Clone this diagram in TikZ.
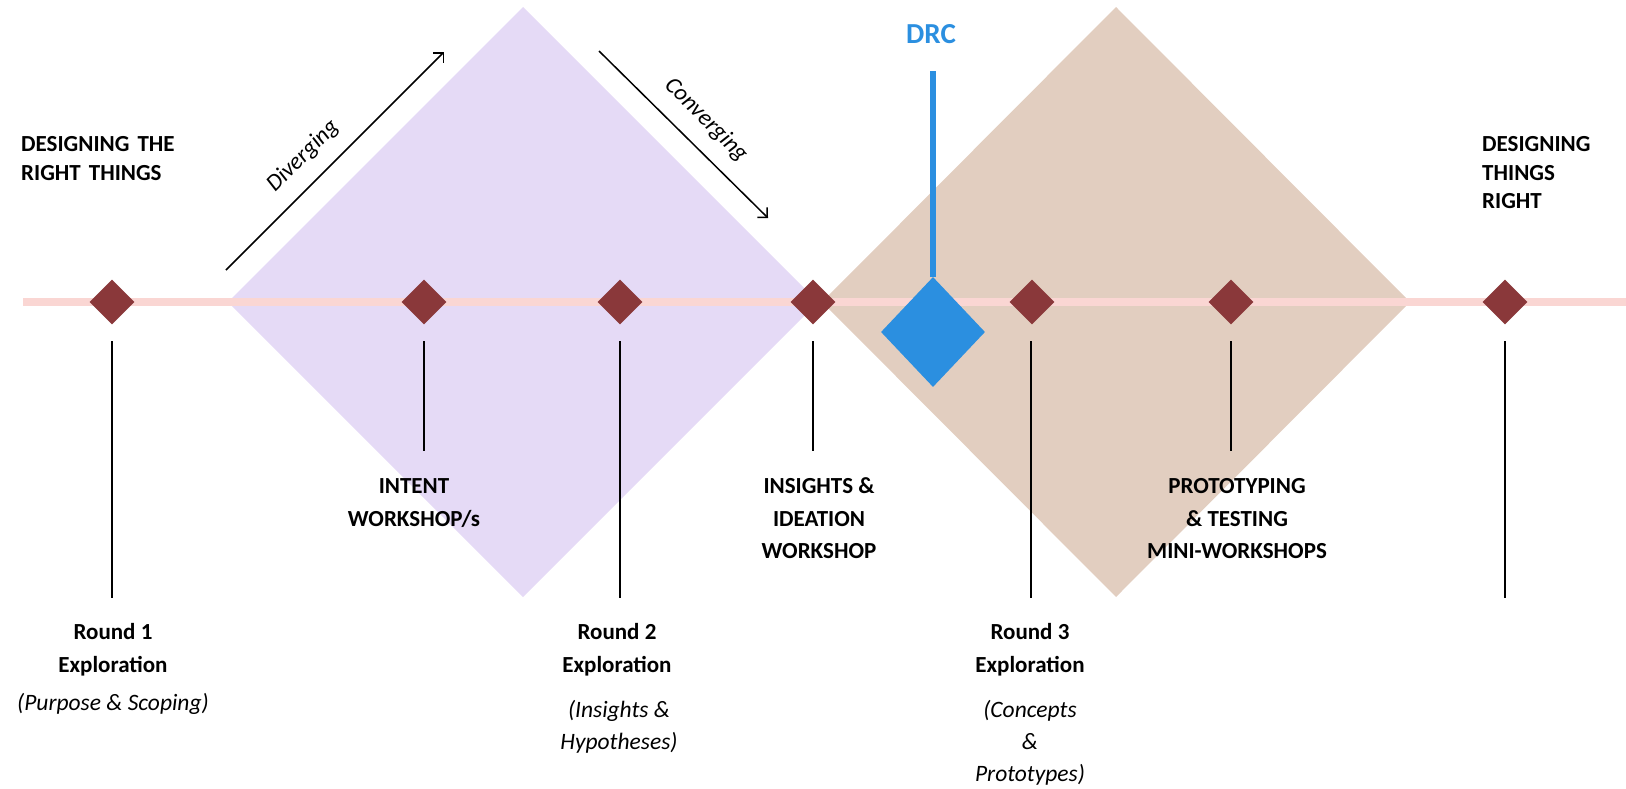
\documentclass[tikz,border=0pt]{standalone}
\usepackage{fontspec}
\setmainfont{Carlito}
\usetikzlibrary{shapes.geometric,arrows.meta}
\definecolor{railpink}{HTML}{FAD6D3}
\definecolor{divpurple}{HTML}{E5DAF6}
\definecolor{convbrown}{HTML}{E2CEC0}
\definecolor{milemaroon}{HTML}{8A383A}
\definecolor{drcblue}{HTML}{2B8FE0}
\tikzset{
  milestone/.style={diamond, fill=milemaroon, minimum width=45pt, minimum height=45pt, inner sep=0pt},
  drcgate/.style={diamond, fill=drcblue, minimum width=104pt, minimum height=110pt, inner sep=0pt},
  stem/.style={line width=2pt, black},
  flow/.style={line width=1.5pt, black, -{Straight Barb[length=7pt,width=14pt]}},
  head/.style={font=\fontsize{23}{28}\selectfont\bfseries, anchor=base, inner sep=0pt},
  headl/.style={head, anchor=base west},
  note/.style={font=\fontsize{23.5}{28}\selectfont\itshape, anchor=base, inner sep=0pt},
  flowlabel/.style={font=\fontsize{23.5}{28}\selectfont\itshape, inner sep=0pt},
}
\begin{document}
\begin{tikzpicture}[x=1pt,y=-1pt]
\useasboundingbox (0,0) rectangle (1626,788);

% diverging and converging phases
\fill[divpurple] (523,7) -- (818,302) -- (523,597) -- (228,302) -- cycle;
\fill[convbrown] (1116,7) -- (1410,302) -- (1116,597) -- (822,302) -- cycle;

% timeline
\coordinate (railA) at (23,302);
\coordinate (railB) at (1626,302);
\draw[railpink, line width=8pt] (railA) -- (railB);

% milestones
\node[milestone] (m1) at (112,302) {};
\node[milestone] (m2) at (424,302) {};
\node[milestone] (m3) at (620,302) {};
\node[milestone] (m4) at (813,302) {};
\node[milestone] (m5) at (1032,302) {};
\node[milestone] (m6) at (1231,302) {};
\node[milestone] (m7) at (1505,302) {};

% stems below the milestones
\foreach \x/\e [count=\i] in {112/598, 424/451, 620/598, 813/451, 1031/598, 1231/451, 1505/598}{
  \coordinate (st\i) at (\x,341);
  \coordinate (se\i) at (\x,\e);
  \draw[stem] (st\i) -- (se\i);
}

% decision review checkpoint
\node[drcgate] (drc) at (933,332) {};
\coordinate (drctop) at (933,71);
\draw[drcblue, line width=6pt] (drctop) -- (drc.north);
\node[head, text=drcblue, font=\fontsize{29}{34}\selectfont\bfseries] (drclabel) at (931,43) {DRC};

% phase arrows
\coordinate (dv1) at (226,270);
\coordinate (dv2) at (444,52);
\draw[flow] (dv1) -- (dv2);
\node[flowlabel, rotate=45] (divlabel) at (303,156) {Diverging};
\coordinate (cv1) at (599,51);
\coordinate (cv2) at (768,218);
\draw[flow] (cv1) -- (cv2);
\node[flowlabel, rotate=-45] (convlabel) at (706,120) {Converging};

% side headings
\node[headl] (lt1) at (21,151) {DESIGNING\hspace{0.35em}THE};
\node[headl] (lt2) at (21,180) {RIGHT\hspace{0.35em}THINGS};
\node[headl] (rt1) at (1482,151) {DESIGNING};
\node[headl] (rt2) at (1482,180) {THINGS};
\node[headl] (rt3) at (1482,208) {RIGHT};

% workshops
\node[head] (w1a) at (414,493) {INTENT};
\node[head] (w1b) at (414,526) {WORKSHOP/s};
\node[head] (w2a) at (819,493) {INSIGHTS \&};
\node[head] (w2b) at (819,526) {IDEATION};
\node[head] (w2c) at (819,558) {WORKSHOP};
\node[head] (w3a) at (1237,493) {PROTOTYPING};
\node[head] (w3b) at (1237,526) {\& TESTING};
\node[head] (w3c) at (1237,558) {MINI-WORKSHOPS};

% exploration rounds
\node[head] (r1a) at (113,639) {Round 1};
\node[head] (r1b) at (113,672) {Exploration};
\node[note] (r1c) at (113,710) {(Purpose \& Scoping)};
\node[head] (r2a) at (617,639) {Round 2};
\node[head] (r2b) at (617,672) {Exploration};
\node[note] (r2c) at (619,717) {(Insights \&};
\node[note] (r2d) at (619,749) {Hypotheses)};
\node[head] (r3a) at (1030,639) {Round 3};
\node[head] (r3b) at (1030,672) {Exploration};
\node[note] (r3c) at (1030,717) {(Concepts};
\node[note] (r3d) at (1030,749) {\&};
\node[note] (r3e) at (1030,781) {Prototypes)};
\end{tikzpicture}
\end{document}
